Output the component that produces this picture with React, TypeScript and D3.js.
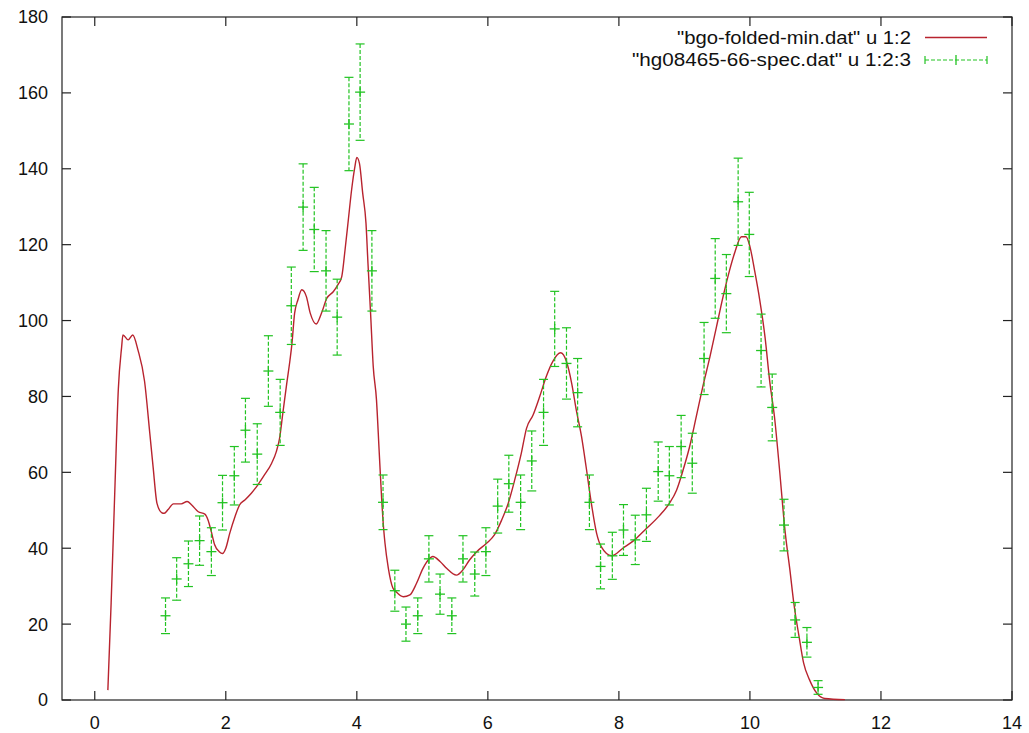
import React from "react";
import * as d3 from "d3";

// ---- data ----
const xTicks = [0, 2, 4, 6, 8, 10, 12, 14];
const yTicks = [0, 20, 40, 60, 80, 100, 120, 140, 160, 180];

const modelX = [0.20,0.25,0.31,0.36,0.41,0.43,0.51,0.58,0.66,0.76,
  0.84,0.89,0.95,1.02,1.06,1.12,1.20,1.32,1.41,1.48,
  1.58,1.68,1.73,1.78,1.83,1.90,1.95,2.00,2.06,2.14,
  2.21,2.29,2.39,2.49,2.59,2.70,2.77,2.82,2.87,2.93,
  2.98,3.01,3.05,3.10,3.16,3.23,3.29,3.38,3.46,3.54,
  3.64,3.71,3.77,3.82,3.87,3.92,3.97,4.00,4.04,4.09,
  4.14,4.17,4.21,4.25,4.30,4.34,4.38,4.41,4.43,4.48,
  4.55,4.60,4.71,4.81,4.91,5.01,5.09,5.16,5.27,5.37,
  5.52,5.62,5.72,5.83,5.98,6.10,6.21,6.31,6.41,6.51,
  6.59,6.69,6.79,6.89,6.99,7.11,7.20,7.28,7.35,7.43,
  7.50,7.58,7.66,7.73,7.89,8.06,8.24,8.42,8.62,8.77,
  8.88,8.98,9.08,9.18,9.28,9.39,9.49,9.59,9.69,9.77,
  9.87,9.94,10.00,10.07,10.15,10.23,10.30,10.38,10.44,10.54,
  10.61,10.67,10.75,10.82,10.91,11.02,11.14,11.45];
const modelY = [2.6,25.6,57.2,82.0,93.0,96.2,94.9,96.2,92.2,84.0,
  70.3,61.5,51.8,49.4,49.2,50.2,51.7,51.7,52.3,51.4,
  49.6,49.0,47.4,44.3,40.9,39.1,38.6,40.0,43.9,48.3,
  51.4,52.7,54.5,56.7,59.3,62.4,65.4,68.9,75.5,83.4,
  89.6,94.0,101.9,105.4,108.1,106.3,101.9,99.1,101.9,105.8,
  107.6,109.4,111.6,118.6,126.5,134.4,140.5,143.0,141.4,133.5,
  125.6,115.1,101.9,88.0,79.1,65.9,52.7,45.0,41.3,34.8,
  29.5,28.5,27.2,27.7,30.7,34.7,36.9,37.8,36.5,34.7,
  32.9,34.3,36.9,39.1,41.3,43.5,47.4,51.8,58.0,65.0,
  71.6,75.1,79.9,85.2,89.2,91.5,89.2,83.4,76.4,69.4,
  61.4,51.8,43.9,40.4,38.0,40.0,42.2,45.2,48.6,51.8,
  55.3,60.6,66.8,74.6,82.5,90.5,98.4,106.3,113.3,118.0,
  122.1,122.1,119.5,113.3,105.4,95.7,84.3,73.8,63.0,43.9,
  34.3,25.5,16.7,9.7,5.3,1.8,0.4,0.1];

const specX = [1.08,1.25,1.43,1.60,1.78,1.95,2.13,2.30,2.48,2.65,
  2.83,3.00,3.18,3.35,3.53,3.70,3.88,4.05,4.23,4.40,
  4.58,4.75,4.93,5.10,5.27,5.45,5.62,5.80,5.97,6.15,
  6.32,6.50,6.67,6.85,7.02,7.20,7.37,7.55,7.72,7.90,
  8.07,8.25,8.42,8.60,8.77,8.95,9.12,9.30,9.47,9.64,
  9.82,9.99,10.17,10.34,10.52,10.69,10.87,11.04];
const specY = [22.2,31.9,35.9,42.0,39.1,52.0,59.1,71.1,64.8,86.7,
  75.8,103.9,129.9,124.0,113.1,100.9,151.8,160.2,113.1,52.1,
  28.8,20.0,22.2,37.2,27.9,22.2,37.2,33.2,39.1,51.1,
  57.0,52.1,63.0,75.8,97.8,88.7,81.0,52.1,35.2,38.0,
  44.8,42.2,48.8,60.2,59.1,66.8,62.4,90.0,111.1,107.1,
  131.3,122.7,92.1,77.1,46.1,21.1,15.2,3.3];
const specErr = [4.7,5.6,6.0,6.5,6.3,7.2,7.7,8.4,8.0,9.3,
  8.7,10.2,11.4,11.1,10.6,10.0,12.3,12.7,10.6,7.2,
  5.4,4.5,4.7,6.1,5.3,4.7,6.1,5.8,6.3,7.1,
  7.5,7.2,7.9,8.7,9.9,9.4,9.0,7.2,5.9,6.2,
  6.7,6.5,7.0,7.8,7.7,8.2,7.9,9.5,10.5,10.3,
  11.5,11.1,9.6,8.8,6.8,4.6,3.9,1.8];

const legendLabels = ['"bgo-folded-min.dat" u 1:2', '"hg08465-66-spec.dat" u 1:2:3'];

// ---- layout ----
const W = 1029, H = 733;
const L = 62, R = 1012, T = 17, B = 700;
const RED = "#b8232e";
const GREEN = "#22c322";
const FONT = "'Liberation Sans', Arial, Helvetica, sans-serif";

export default function App() {
  const x = d3.scaleLinear().domain([-0.5, 14]).range([L, R]);
  const y = d3.scaleLinear().domain([0, 180]).range([B, T]);
  const modelPts: [number, number][] = modelX.map((v, i) => [v, modelY[i]]);
  const line = d3.line<[number, number]>()
    .x(d => x(d[0]))
    .y(d => y(d[1]))
    .curve(d3.curveMonotoneX);
  const tick = 9;
  const cap = 4.5;

  const errBar = (cx: number, cy: number, top: number, bot: number, key: string | number) => (
    <g key={key}>
      <line x1={cx} x2={cx} y1={top} y2={bot} stroke={GREEN} strokeWidth={1.2} strokeDasharray="4,2" />
      <line x1={cx - cap} x2={cx + cap} y1={top} y2={top} stroke={GREEN} strokeWidth={1.2} />
      <line x1={cx - cap} x2={cx + cap} y1={bot} y2={bot} stroke={GREEN} strokeWidth={1.2} />
      <line x1={cx - 5} x2={cx + 5} y1={cy} y2={cy} stroke={GREEN} strokeWidth={1.3} />
      <line x1={cx} x2={cx} y1={cy - 5} y2={cy + 5} stroke={GREEN} strokeWidth={1.3} />
    </g>
  );

  return (
    <svg width={W} height={H} style={{ position: "absolute", left: 0, top: 0, background: "#fff" }} fontFamily={FONT}>
      <rect x={0} y={0} width={W} height={H} fill="#fff" />
      {/* frame */}
      <rect x={L} y={T} width={R - L} height={B - T} fill="none" stroke="#222" strokeWidth={1.2} />
      {/* x ticks */}
      {xTicks.map(t => (
        <g key={"xt" + t}>
          <line x1={x(t)} x2={x(t)} y1={B} y2={B - tick} stroke="#222" strokeWidth={1.2} />
          <line x1={x(t)} x2={x(t)} y1={T} y2={T + tick} stroke="#222" strokeWidth={1.2} />
          <text x={x(t)} y={729} textAnchor="middle" fontSize={18} fill="#111">{t}</text>
        </g>
      ))}
      {/* y ticks */}
      {yTicks.map(t => (
        <g key={"yt" + t}>
          <line x1={L} x2={L + tick} y1={y(t)} y2={y(t)} stroke="#222" strokeWidth={1.2} />
          <line x1={R} x2={R - tick} y1={y(t)} y2={y(t)} stroke="#222" strokeWidth={1.2} />
          <text x={48} y={y(t)} dy="0.36em" textAnchor="end" fontSize={18} fill="#111">{t}</text>
        </g>
      ))}
      {/* model curve */}
      <path d={line(modelPts) || ""} fill="none" stroke={RED} strokeWidth={1.4} />
      {/* spectrum with error bars */}
      {specX.map((v, i) => errBar(x(v), y(specY[i]), y(specY[i] + specErr[i]), y(specY[i] - specErr[i]), i))}
      {/* legend */}
      <text x={911} y={44} textAnchor="end" fontSize={17.5} fill="#111" textLength={234} lengthAdjust="spacingAndGlyphs">{legendLabels[0]}</text>
      <line x1={925} x2={987} y1={37.5} y2={37.5} stroke={RED} strokeWidth={1.4} />
      <text x={911} y={66} textAnchor="end" fontSize={17.5} fill="#111" textLength={279} lengthAdjust="spacingAndGlyphs">{legendLabels[1]}</text>
      <g>
        <line x1={925} x2={987} y1={60} y2={60} stroke={GREEN} strokeWidth={1.2} strokeDasharray="4,2" />
        <line x1={925} x2={925} y1={56} y2={64} stroke={GREEN} strokeWidth={1.2} />
        <line x1={987} x2={987} y1={56} y2={64} stroke={GREEN} strokeWidth={1.2} />
        <line x1={956} x2={956} y1={55} y2={65} stroke={GREEN} strokeWidth={1.3} />
      </g>
    </svg>
  );
}
